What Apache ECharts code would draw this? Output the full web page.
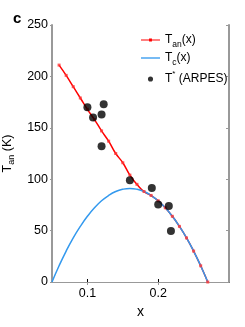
<!DOCTYPE html>
<html><head><meta charset="utf-8">
<script src="https://cdn.jsdelivr.net/npm/echarts@6/dist/echarts.min.js"></script>
<style>html,body{margin:0;padding:0;background:#fff}#c{width:245px;height:327px}</style>
</head><body><div id="c"></div>
<script>
// x values (doping)
const xGrid = [0.05,0.06,0.07,0.08,0.09,0.10,0.11,0.12,0.13,0.14,0.15,0.16,0.17,0.18,0.19,0.20,0.21,0.22,0.23,0.24,0.25,0.26,0.27];
// T_c(x) read from the blue dome
const tcValues = [0,15.8,30.1,42.9,54.1,63.9,72.2,79.0,84.2,88.0,90.2,91.0,90.2,88.0,84.2,79.0,72.2,63.9,54.1,42.9,30.1,15.8,0];
// T_an(x) red line with markers (starts at x = 0.06)
const tanX = [0.06,0.07,0.08,0.09,0.10,0.11,0.12,0.13,0.14,0.15,0.16,0.17,0.18,0.19,0.20,0.21,0.22,0.23,0.24,0.25,0.26,0.27];
const tanValues = [211,201,190,179,168,158,147,137,125,116,104,95,88,84.2,79,72.2,63.9,54.1,42.9,30.1,15.8,0];
// T* ARPES points
const arpesX = [0.100,0.108,0.120,0.123,0.120,0.160,0.191,0.200,0.215,0.218];
const arpesT = [170,160,163,173,132,99,91.5,75.5,74,49.5];
const xTicks = [0.1,0.2];
const yTicks = [0,50,100,150,200,250];

const FONT = 'Liberation Sans';
const RED = '#ff0000', BLUE = '#3399ee';
const chart = echarts.init(document.getElementById('c'));
const rich = {
  t:{fontFamily:FONT,fontSize:12.5,color:'#000',lineHeight:18,verticalAlign:'middle'},
  s:{fontFamily:FONT,fontSize:9,color:'#000',lineHeight:18,verticalAlign:'bottom'},
  p:{fontFamily:FONT,fontSize:8,color:'#000',lineHeight:18,verticalAlign:'top'}
};
const legRich = {
  t:{fontFamily:FONT,fontSize:12,color:'#000',lineHeight:18,verticalAlign:'middle'},
  s:{fontFamily:FONT,fontSize:8.5,color:'#000',lineHeight:18,verticalAlign:'bottom'},
  p:{fontFamily:FONT,fontSize:8,color:'#000',lineHeight:18,verticalAlign:'top'}
};
const tanData = tanX.map((x,i)=>[x,tanValues[i]]);
chart.setOption({
  animation:false,
  grid:{left:52,right:16,top:25,bottom:45,containLabel:false,outerBoundsMode:'none'},
  title:{text:'c',left:8,top:6,textStyle:{fontFamily:FONT,fontSize:15,fontWeight:'bold',color:'#000'}},
  legend:{
    orient:'vertical',left:136,top:29,itemGap:3,itemWidth:19,itemHeight:8,
    textStyle:{fontFamily:FONT,fontSize:12,color:'#000',rich:legRich},
    formatter:function(n){
      if(n==='Tan') return '{t|T}{s|an}{t|(x)}';
      if(n==='Tc') return '{t|T}{s|c}{t|(x)}';
      return '{t|T}{p|*}{t| (ARPES)}';
    },
    data:[
      {name:'Tan',icon:'path://M0,3.4L20,3.4L20,4.6L0,4.6Z M8.5,2.5L11.5,2.5L11.5,5.5L8.5,5.5Z'},
      {name:'Tc',icon:'path://M0,3.3L20,3.3L20,4.7L0,4.7Z'},
      {name:'ARPES',icon:'path://M0,0L0.01,0L0.01,0.01Z M19.99,7.99L20,8L19.99,8Z M12.7,4A2.7,2.7 0 1 1 7.3,4A2.7,2.7 0 1 1 12.7,4Z'}
    ]
  },
  xAxis:[{
    type:'value',min:0.05,max:0.3,position:'bottom',
    axisLine:{lineStyle:{color:'#000',width:1}},
    axisTick:{inside:true,length:3,lineStyle:{color:'#000'},customValues:xTicks},
    axisLabel:{fontFamily:FONT,fontSize:12.5,color:'#000',margin:5,customValues:xTicks,formatter:v=>v.toFixed(1)},
    splitLine:{show:false},
    name:'x',nameLocation:'middle',nameGap:19,nameTextStyle:{fontFamily:FONT,fontSize:14,color:'#000'}
  },{
    type:'value',min:0.05,max:0.3,position:'top',
    axisLine:{show:true,lineStyle:{color:'#999',width:1}},
    axisTick:{show:true,inside:true,length:3,lineStyle:{color:'#999'},customValues:xTicks},
    axisLabel:{show:false},splitLine:{show:false}
  }],
  yAxis:[{
    type:'value',min:0,max:250,interval:50,position:'left',
    axisLine:{show:true,lineStyle:{color:'#999',width:2}},
    axisTick:{show:true,inside:false,length:2,lineStyle:{color:'#999'}},
    axisLabel:{fontFamily:FONT,fontSize:12.5,color:'#000',margin:4},
    splitLine:{show:false},
    name:'{t|T}{s|an}{t| (K)}',nameLocation:'middle',nameGap:33,nameRotate:90,
    nameTextStyle:{rich:rich}
  },{
    type:'value',min:0,max:250,interval:50,position:'right',
    axisLine:{show:true,lineStyle:{color:'#999',width:2}},
    axisTick:{show:true,inside:true,length:3,lineStyle:{color:'#999'}},
    axisLabel:{show:false},splitLine:{show:false}
  }],
  series:[
    {name:'Tan',type:'line',smooth:true,symbol:'none',z:2,
     lineStyle:{color:RED,width:1.5},itemStyle:{color:RED},
     data:tanData},
    {name:'Tc',type:'line',smooth:true,symbol:'none',z:3,
     lineStyle:{color:BLUE,width:1.5},itemStyle:{color:BLUE},
     data:xGrid.map((x,i)=>[x,tcValues[i]])},
    {name:'TanMarks',type:'scatter',symbol:'rect',symbolSize:3,z:4,silent:true,
     itemStyle:{color:'#ff3333'},data:tanData},
    {name:'ARPES',type:'scatter',symbol:'circle',symbolSize:8,z:5,
     itemStyle:{color:'#000'},
     data:arpesX.map((x,i)=>[x,arpesT[i]])}
  ]
});
</script></body></html>
